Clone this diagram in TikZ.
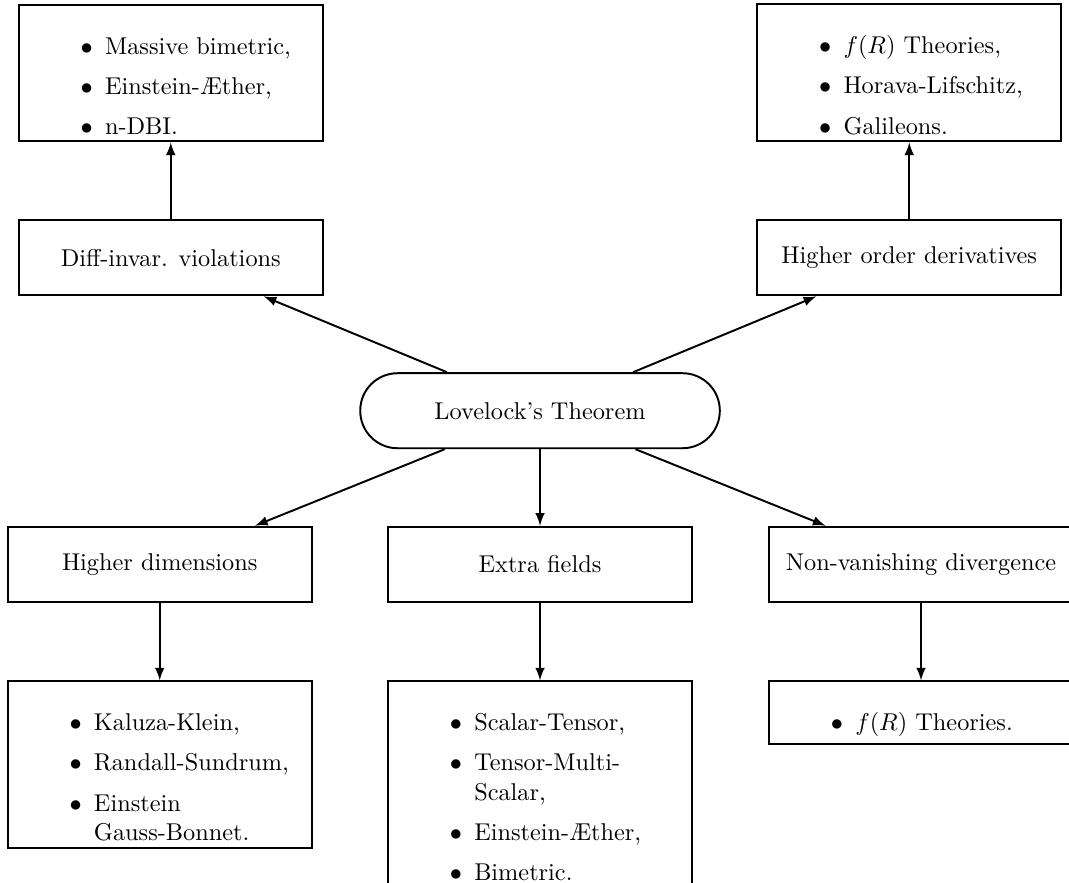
\documentclass[tikz,border=0pt]{standalone}
\usepackage{enumitem}
\setlist[itemize]{label=$\bullet$,leftmargin=27pt,topsep=5.5pt,itemsep=4.5pt,parsep=0pt,partopsep=0pt}
\begin{document}
\begin{tikzpicture}[
 thick,
 >={latex},
 inner sep=1mm,
 box/.style={draw=black,rectangle,minimum width=4.4cm,minimum height=1.085cm},
 list/.style={draw=black,rectangle,minimum width=4.4cm,text width=3.8cm,align=flush left},
 theorem/.style={draw=black,rectangle,rounded corners=0.54cm,minimum width=5.2cm,minimum height=1.085cm}
]
\useasboundingbox (-7.81,-6.82) rectangle (7.65,5.94);
\node (lovelock) [theorem] at (0,0) {Lovelock's Theorem};
% upper branch
\node (diff-box) [box] at (-5.34,2.21) {Diff-invar. violations};
\node (order-box) [box] at (5.34,2.21) {Higher order derivatives};
\node (diff-list) [list,anchor=south] at (-5.34,3.88) {\begin{itemize}
 \item Massive bimetric,
 \item Einstein-\AE ther,
 \item n-DBI.
\end{itemize}};
\node (order-list) [list,anchor=south] at (5.34,3.88) {\begin{itemize}
 \item $f(R)$ Theories,
 \item Horava-Lifschitz,
 \item Galileons.
\end{itemize}};
% lower branch
\node (dim-box) [box] at (-5.5,-2.22) {Higher dimensions};
\node (field-box) [box] at (0,-2.22) {Extra fields};
\node (div-box) [box] at (5.51,-2.22) {Non-vanishing divergence};
\node (dim-list) [list,anchor=north] at (-5.5,-3.9) {\begin{itemize}
 \item Kaluza-Klein,
 \item Randall-Sundrum,
 \item Einstein Gauss-Bonnet.
\end{itemize}};
\node (field-list) [list,anchor=north] at (0,-3.9) {\begin{itemize}
 \item Scalar-Tensor,
 \item Tensor-Multi-Scalar,
 \item Einstein-\AE ther,
 \item Bimetric.
\end{itemize}};
\node (div-list) [list,anchor=north] at (5.51,-3.9) {\begin{itemize}
 \item $f(R)$ Theories.
\end{itemize}};
\draw[->] (lovelock) -- (diff-box);
\draw[->] (lovelock) -- (order-box);
\draw[->] (lovelock) -- (dim-box);
\draw[->] (lovelock) -- (field-box);
\draw[->] (lovelock) -- (div-box);
\draw[->] (diff-box) -- (diff-list);
\draw[->] (order-box) -- (order-list);
\draw[->] (dim-box) -- (dim-list);
\draw[->] (field-box) -- (field-list);
\draw[->] (div-box) -- (div-list);
\end{tikzpicture}
\end{document}
